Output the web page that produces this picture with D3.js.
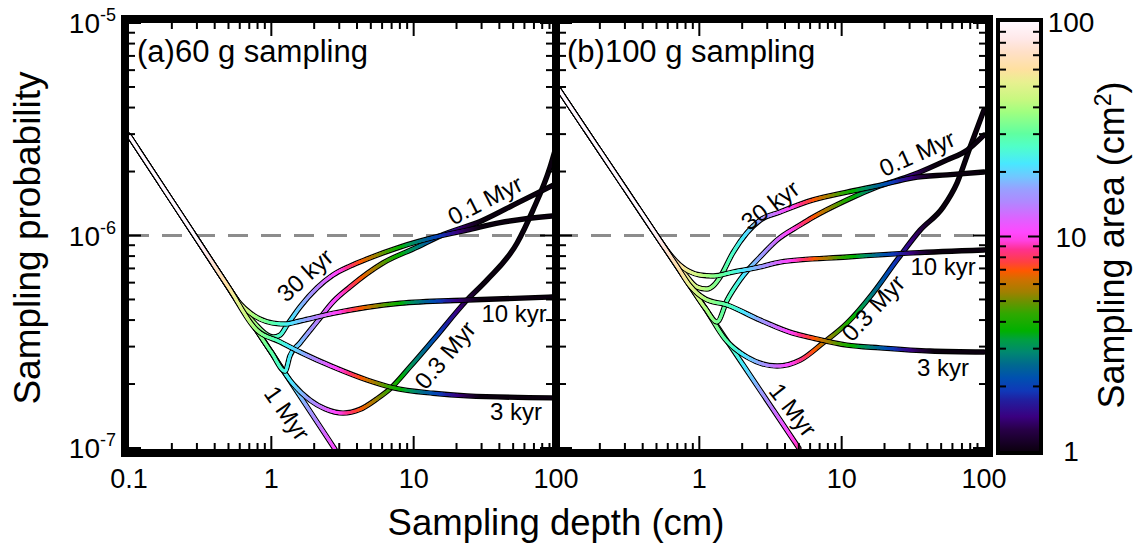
<!DOCTYPE html>
<html>
<head>
<meta charset="utf-8">
<script src="https://cdn.jsdelivr.net/npm/d3@7"></script>
<style>
  body { margin: 0; background: #fff; }
  svg { display: block; font-family: "Liberation Sans", Arial, Helvetica, sans-serif; }
</style>
</head>
<body>
<div id="chart"></div>
<script>
// ages of the curves, same order in both panels
const ages = ["3 kyr", "10 kyr", "30 kyr", "0.1 Myr", "0.3 Myr", "1 Myr"];
const panelTitles = ["(a)60 g sampling", "(b)100 g sampling"];
// area (cm2) = areaDepth / depth (cm)
const areaDepth = [30, 45];

// [sampling depth (cm), sampling probability]
const curvesA = [
  [[0.1,2.95e-6],[0.2,1.455e-6],[0.3,9.62e-7],[0.5,5.71e-7],[0.79,3.59e-7],[1.15,3.16e-7],[1.59,2.83e-7],[2.71,2.41e-7],[4.7,2.09e-7],[7.2,1.92e-7],[13.7,1.81e-7],[23.7,1.76e-7],[100,1.72e-7]],
  [[0.1,2.95e-6],[0.2,1.455e-6],[0.3,9.62e-7],[0.45,6.36e-7],[0.6,4.8e-7],[0.71,4.32e-7],[0.83,4.05e-7],[1.03,3.87e-7],[1.25,3.83e-7],[1.59,3.96e-7],[2.7,4.3e-7],[8,4.8e-7],[24,4.97e-7],[100,5.14e-7]],
  [[0.1,2.95e-6],[0.2,1.455e-6],[0.3,9.62e-7],[0.45,6.36e-7],[0.6,4.71e-7],[0.77,3.84e-7],[0.9,3.47e-7],[1.03,3.33e-7],[1.15,3.4e-7],[1.29,3.79e-7],[1.59,4.61e-7],[2.09,5.66e-7],[2.71,6.52e-7],[3.57,7.18e-7],[4.7,7.75e-7],[8,8.82e-7],[15.3,9.95e-7],[23.7,1.06e-6],[40.5,1.15e-6],[100,1.24e-6]],
  [[0.1,2.95e-6],[0.2,1.455e-6],[0.3,9.62e-7],[0.5,5.71e-7],[0.7,4.05e-7],[1,2.82e-7],[1.25,2.3e-7],[1.35,2.71e-7],[1.59,3.12e-7],[2.09,3.92e-7],[2.71,4.87e-7],[3.57,5.73e-7],[6.1,7.43e-7],[10.6,8.82e-7],[15.3,9.95e-7],[30.7,1.18e-6],[53.3,1.42e-6],[100,1.75e-6]],
  [[0.1,2.95e-6],[0.2,1.455e-6],[0.3,9.62e-7],[0.5,5.71e-7],[0.7,4.05e-7],[1,2.82e-7],[1.42,2.0e-7],[1.87,1.68e-7],[2.38,1.53e-7],[3.19,1.46e-7],[4.2,1.52e-7],[5.5,1.7e-7],[6.83,1.9e-7],[9.43,2.41e-7],[13.7,3.22e-7],[23.7,4.97e-7],[32.8,6.18e-7],[53.3,9.22e-7],[69,1.32e-6],[90.9,2.1e-6],[100,2.61e-6]],
  [[0.1,2.95e-6],[0.2,1.455e-6],[0.5,5.71e-7],[1,2.82e-7],[2,1.39e-7],[2.8,9.87e-8]]
];
const curvesB = [
  [[0.1,5e-6],[0.2,2.5e-6],[0.3,1.667e-6],[0.5,1e-6],[0.7,7.14e-7],[0.86,5.8e-7],[1.1,5.03e-7],[1.57,4.71e-7],[2.67,4e-7],[4.55,3.47e-7],[6.3,3.29e-7],[10.9,3.05e-7],[18.6,2.96e-7],[41.8,2.86e-7],[100,2.83e-7]],
  [[0.1,5e-6],[0.2,2.5e-6],[0.3,1.667e-6],[0.45,1.11e-6],[0.57,8.77e-7],[0.73,7.26e-7],[1.01,6.52e-7],[1.25,6.45e-7],[1.72,6.73e-7],[2.67,7.11e-7],[3.69,7.5e-7],[10.9,7.92e-7],[31.7,8.28e-7],[100,8.55e-7]],
  [[0.1,5e-6],[0.2,2.5e-6],[0.3,1.667e-6],[0.5,1e-6],[0.79,6.59e-7],[0.96,5.73e-7],[1.13,5.6e-7],[1.27,5.85e-7],[1.4,6.38e-7],[1.72,8.28e-7],[2.16,1.03e-6],[2.67,1.18e-6],[3.69,1.29e-6],[6.3,1.47e-6],[10.9,1.6e-6],[17.7,1.71e-6],[31.7,1.87e-6],[55.1,1.93e-6],[100,1.99e-6]],
  [[0.1,5e-6],[0.2,2.5e-6],[0.3,1.667e-6],[0.5,1e-6],[0.8,6.25e-7],[1.1,4.55e-7],[1.33,3.92e-7],[1.57,4.97e-7],[1.93,6.18e-7],[2.67,7.92e-7],[3.52,9.53e-7],[5.1,1.12e-6],[6.3,1.22e-6],[10.9,1.47e-6],[17.7,1.69e-6],[31.7,1.93e-6],[55.1,2.27e-6],[76.1,2.52e-6],[100,2.97e-6]],
  [[0.1,5e-6],[0.2,2.5e-6],[0.3,1.667e-6],[0.5,1e-6],[0.8,6.25e-7],[1.1,4.55e-7],[1.52,3.25e-7],[2.16,2.68e-7],[3.52,2.43e-7],[5.1,2.59e-7],[7.4,3.12e-7],[10.9,3.87e-7],[16.6,5.36e-7],[24.5,7.67e-7],[35.6,1.06e-6],[51.6,1.36e-6],[64.7,1.77e-6],[79.9,2.61e-6],[100,3.9e-6]],
  [[0.1,5e-6],[0.2,2.5e-6],[0.5,1e-6],[1,5e-7],[2,2.5e-7],[5,1e-7]]
];

const xTickLabelsA = [0.1, 1, 10, 100];
const xTickLabelsB = [1, 10, 100];
const yTickExponents = [-5, -6, -7];
const colourTicks = [1, 10, 100];
const thresholdProb = 1e-6;

// label anchor in data units and rotation, per panel (same order as ages)
const labelsA = [
  {d: 52.4, p: 1.48e-7, rot: 0},
  {d: 50.8, p: 4.28e-7, rot: 0},
  {d: 1.72, p: 6.52e-7, rot: -42},
  {d: 31.7, p: 1.47e-6, rot: -27},
  {d: 16.6, p: 2.74e-7, rot: -50},
  {d: 1.29, p: 1.46e-7, rot: 55}
];
const labelsB = [
  {d: 51.6, p: 2.38e-7, rot: 0},
  {d: 51.6, p: 7.18e-7, rot: 0},
  {d: 3.14, p: 1.39e-6, rot: -37},
  {d: 33.9, p: 2.44e-6, rot: -24},
  {d: 16.6, p: 4.56e-7, rot: -47},
  {d: 4.55, p: 1.51e-7, rot: 52}
];

// colour map along log10(area)/2
const colourStops = [
  [0.00,"#0c0010"],[0.05,"#280048"],[0.08,"#3a0080"],[0.12,"#2020a0"],[0.14,"#1038b8"],
  [0.17,"#0050b0"],[0.20,"#006890"],[0.23,"#008870"],[0.26,"#00a040"],[0.28,"#00b000"],
  [0.32,"#30a800"],[0.35,"#709000"],[0.37,"#a08000"],[0.40,"#d07000"],[0.42,"#ff5800"],
  [0.44,"#ff4040"],[0.47,"#ff3090"],[0.49,"#ff40e0"],[0.51,"#ff48ff"],[0.54,"#e060ff"],
  [0.58,"#b088ff"],[0.61,"#98a0ff"],[0.64,"#70c8ff"],[0.67,"#48e8ff"],[0.71,"#50ffc8"],
  [0.74,"#60ffa0"],[0.79,"#a0ff80"],[0.82,"#c8f880"],[0.86,"#e8f090"],[0.89,"#ffe0a0"],
  [0.93,"#ffe0c8"],[0.96,"#ffe8e8"],[1.00,"#fff8ff"]
];

const width = 1144, height = 552;
const plotTop = 23, plotBottom = 448;

const colour = d3.scaleLinear()
  .domain(colourStops.map(s => s[0]))
  .range(colourStops.map(s => s[1]))
  .clamp(true);
const areaColour = a => colour(Math.log10(a) / 2);

const svg = d3.select("#chart").append("svg")
  .attr("width", width)
  .attr("height", height);
const defs = svg.append("defs");

const y = d3.scaleLog().domain([1e-7, 1e-5]).range([plotBottom, plotTop]);

const panels = [
  {x: d3.scaleLog().domain([0.1, 100]).range([129, 556]), clip: [129, 552], curves: curvesA, k: areaDepth[0], labels: labelsA, tickLabels: xTickLabelsA, title: panelTitles[0], titleX: 137},
  {x: d3.scaleLog().domain([0.1, 100]).range([557, 984]), clip: [560, 985], curves: curvesB, k: areaDepth[1], labels: labelsB, tickLabels: xTickLabelsB, title: panelTitles[1], titleX: 567}
];

// dashed 1e-6 line
svg.append("line")
  .attr("x1", 129).attr("x2", 985)
  .attr("y1", y(thresholdProb)).attr("y2", y(thresholdProb))
  .attr("stroke", "#8c8c8c")
  .attr("stroke-width", 3)
  .attr("stroke-dasharray", "20,13");

function drawCurve(g, pts, x, k) {
  const line = d3.line()
    .x(d => x(d[0]))
    .y(d => y(d[1]))
    .curve(d3.curveMonotoneX);
  const path = g.append("path")
    .attr("d", line(pts))
    .attr("fill", "none")
    .attr("stroke", "#000")
    .attr("stroke-width", 5.4)
    .attr("stroke-linejoin", "round")
    .attr("stroke-linecap", "round");
  const node = path.node();
  const L = node.getTotalLength();
  const n = Math.ceil(L / 1.2);
  let prev = node.getPointAtLength(0);
  for (let i = 1; i <= n; i++) {
    const q = node.getPointAtLength(L * i / n);
    const depth = x.invert((prev.x + q.x) / 2);
    g.append("line")
      .attr("x1", prev.x).attr("y1", prev.y)
      .attr("x2", q.x).attr("y2", q.y)
      .attr("stroke", areaColour(k / depth))
      .attr("stroke-width", 3)
      .attr("stroke-linecap", "round");
    prev = q;
  }
}

panels.forEach(function(p, i) {
  defs.append("clipPath").attr("id", "clip" + i)
    .append("rect")
    .attr("x", p.clip[0]).attr("y", plotTop)
    .attr("width", p.clip[1] - p.clip[0]).attr("height", plotBottom + 1 - plotTop);
  const g = svg.append("g").attr("clip-path", "url(#clip" + i + ")");
  p.curves.slice().reverse().forEach(c => drawCurve(g, c, p.x, p.k));
});

// frame
svg.append("rect")
  .attr("x", 125).attr("y", 19)
  .attr("width", 864).attr("height", 434)
  .attr("fill", "none")
  .attr("stroke", "#000")
  .attr("stroke-width", 8);
svg.append("line")
  .attr("x1", 556).attr("x2", 556)
  .attr("y1", 19).attr("y2", 453)
  .attr("stroke", "#000")
  .attr("stroke-width", 8);

// ticks
const xTickVals = [];
[0.1, 1, 10].forEach(dec => d3.range(1, 10).forEach(m => xTickVals.push({v: m * dec, major: m === 1})));
const yTickVals = [];
[1e-7, 1e-6].forEach(dec => d3.range(1, 10).forEach(m => yTickVals.push({v: m * dec, major: m === 1})));
yTickVals.push({v: 1e-5, major: true});

const ticks = svg.append("g").attr("stroke", "#000").attr("stroke-width", 2);
panels.forEach(function(p) {
  xTickVals.forEach(function(t) {
    const len = t.major ? 13 : 6;
    const xx = p.x(t.v);
    if (xx < p.clip[0] + 1 || xx > p.clip[1] - 1) return;
    ticks.append("line").attr("x1", xx).attr("x2", xx).attr("y1", 449).attr("y2", 449 - len);
    ticks.append("line").attr("x1", xx).attr("x2", xx).attr("y1", plotTop).attr("y2", plotTop + len);
  });
  yTickVals.forEach(function(t) {
    const len = t.major ? 12 : 6;
    const yy = y(t.v);
    ticks.append("line").attr("x1", p.clip[0]).attr("x2", p.clip[0] + len).attr("y1", yy).attr("y2", yy);
    ticks.append("line").attr("x1", p.clip[1]).attr("x2", p.clip[1] - len).attr("y1", yy).attr("y2", yy);
  });

  // x tick labels
  p.tickLabels.forEach(function(v) {
    svg.append("text")
      .attr("x", p.x(v))
      .attr("y", 488)
      .attr("text-anchor", "middle")
      .style("font-size", "27px")
      .text(v);
  });

  // panel title
  svg.append("text")
    .attr("x", p.titleX)
    .attr("y", 62)
    .style("font-size", "31px")
    .text(p.title);

  // curve labels
  p.labels.forEach(function(l, j) {
    svg.append("text")
      .attr("transform", "translate(" + p.x(l.d) + "," + y(l.p) + ") rotate(" + l.rot + ")")
      .attr("text-anchor", "middle")
      .attr("dominant-baseline", "central")
      .style("font-size", "24px")
      .text(ages[j]);
  });
});

// y tick labels
yTickExponents.forEach(function(e) {
  const t = svg.append("text")
    .attr("x", 116)
    .attr("y", y(Math.pow(10, e)) + 10)
    .attr("text-anchor", "end")
    .style("font-size", "28px");
  t.append("tspan").text("10");
  t.append("tspan").attr("dy", -12).style("font-size", "18px").text(e);
});

// axis titles
svg.append("text")
  .attr("x", 556)
  .attr("y", 535)
  .attr("text-anchor", "middle")
  .style("font-size", "36.5px")
  .text("Sampling depth (cm)");
svg.append("text")
  .attr("transform", "translate(40,238) rotate(-90)")
  .attr("text-anchor", "middle")
  .style("font-size", "37px")
  .text("Sampling probability");

// colour bar
const cb = {x0: 1000, x1: 1039, y0: 22, y1: 451};
const cScale = d3.scaleLog().domain([1, 100]).range([cb.y1, cb.y0]);
const grad = defs.append("linearGradient")
  .attr("id", "cbgrad")
  .attr("x1", 0).attr("y1", 1).attr("x2", 0).attr("y2", 0);
colourStops.forEach(s => grad.append("stop").attr("offset", s[0]).attr("stop-color", s[1]));
svg.append("rect")
  .attr("x", cb.x0).attr("y", cb.y0)
  .attr("width", cb.x1 - cb.x0).attr("height", cb.y1 - cb.y0)
  .attr("fill", "url(#cbgrad)");
const cbTicks = svg.append("g").attr("stroke", "#000").attr("stroke-width", 2);
[1, 10].forEach(dec => d3.range(1, 10).forEach(function(m) {
  const v = m * dec;
  if (v === 1) return;
  const len = m === 1 ? 11 : 6;
  const yy = cScale(v);
  cbTicks.append("line").attr("x1", cb.x0).attr("x2", cb.x0 + len).attr("y1", yy).attr("y2", yy);
  cbTicks.append("line").attr("x1", cb.x1).attr("x2", cb.x1 - len).attr("y1", yy).attr("y2", yy);
}));
svg.append("rect")
  .attr("x", 998).attr("y", 20)
  .attr("width", 43).attr("height", 433)
  .attr("fill", "none")
  .attr("stroke", "#000")
  .attr("stroke-width", 4);
colourTicks.forEach(function(v) {
  svg.append("text")
    .attr("x", 1071)
    .attr("y", cScale(v) + 10)
    .attr("text-anchor", "middle")
    .style("font-size", "28px")
    .text(v);
});
const cbTitle = svg.append("text")
  .attr("transform", "translate(1124,245) rotate(-90)")
  .attr("text-anchor", "middle")
  .style("font-size", "36px");
cbTitle.append("tspan").text("Sampling area (cm");
cbTitle.append("tspan").attr("dy", -13).style("font-size", "23px").text("2");
cbTitle.append("tspan").attr("dy", 13).text(")");
</script>
</body>
</html>
